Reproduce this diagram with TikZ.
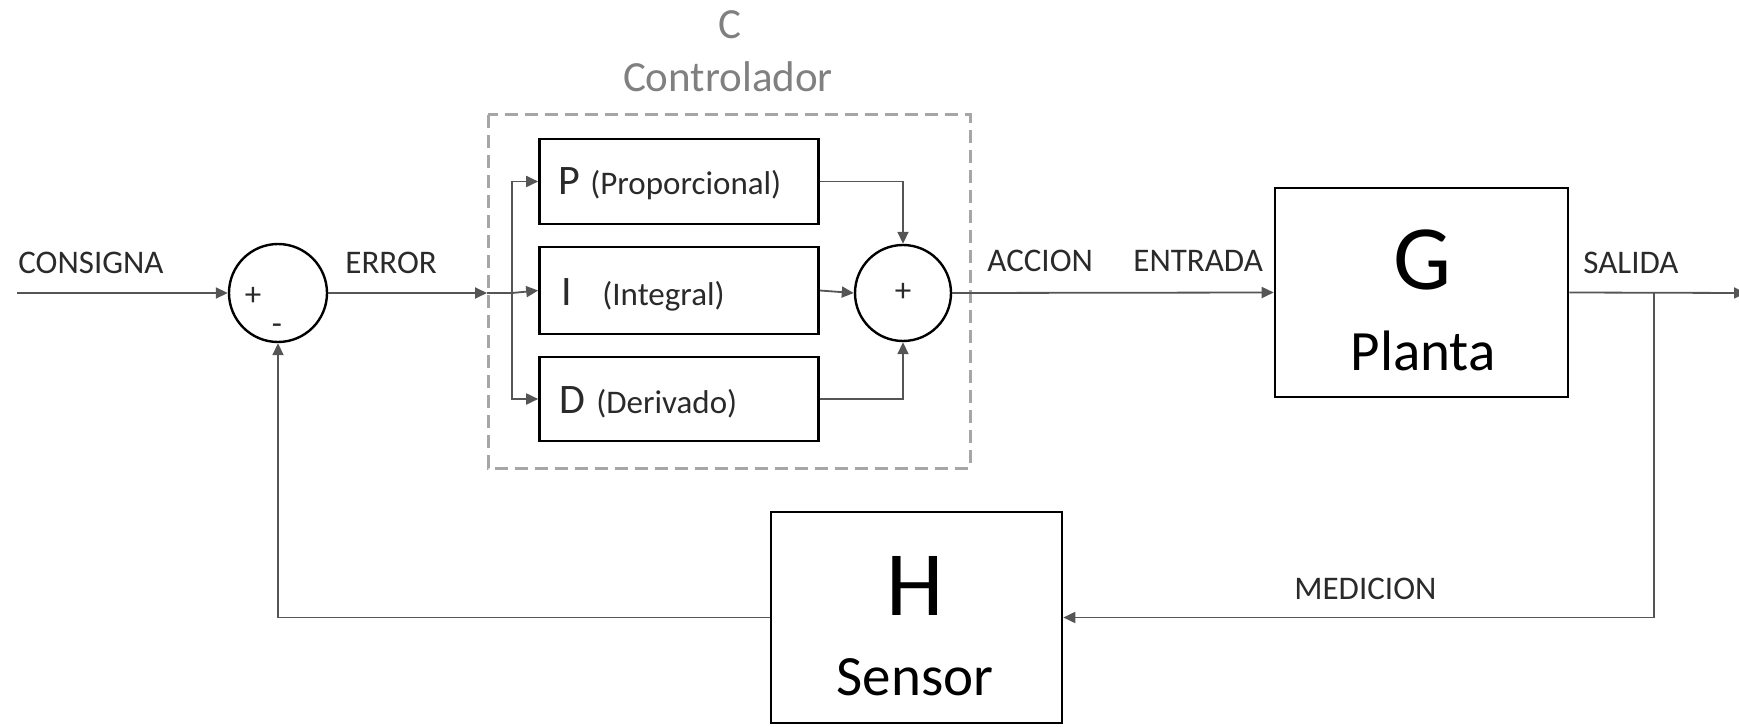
\documentclass[tikz,border=0pt]{standalone}
\usepackage{fontspec}
\setmainfont{Carlito}
\usetikzlibrary{arrows.meta}
\definecolor{txt}{HTML}{2A2A2A}
\definecolor{wire}{HTML}{555555}
\definecolor{framegray}{HTML}{A6A6A6}
\tikzset{
  block/.style={draw=black, line width=1.3pt, fill=white, inner sep=0pt},
  sumnode/.style={draw=black, circle, line width=1.2pt, fill=white, inner sep=0pt, minimum size=49pt},
  wireline/.style={draw=wire, line width=0.9pt},
  sig/.style={wireline, -{Triangle[length=6pt,width=5.5pt]}},
  lbl/.style={text=txt, inner sep=0pt, font=\fontsize{16.5}{20}\selectfont},
  gain/.style={text=txt, inner sep=0pt, font=\fontsize{21}{25}\selectfont},
  bigletter/.style={text=black, inner sep=0pt, font=\fontsize{46}{50}\selectfont},
  blocktitle/.style={text=black, inner sep=0pt, font=\fontsize{28.5}{32}\selectfont},
  ctitle/.style={text=black!50, inner sep=0pt, font=\fontsize{21.5}{25}\selectfont},
  ctlframe/.style={draw=framegray, line width=1.5pt, dash pattern=on 6.5pt off 3.5pt},
}
\begin{document}
\begin{tikzpicture}[x=0.5pt, y=-0.5pt]
\useasboundingbox (0,0) rectangle (1739,727);

% controller frame
\draw[ctlframe] (488,115) rectangle (970,468);
\node[ctitle, anchor=base] (ctl) at (730,39) {C};
\node[ctitle, anchor=base] (ctlname) at (728,92) {Controlador};

% blocks
\node[sumnode] (s1) at (278,293) {};
\node[lbl, anchor=center] (s1p) at (253,296) {+};
\node[lbl, anchor=base] (s1m) at (277,334) {-};

\node[block, minimum width=139.5pt, minimum height=42.5pt] (P) at (679,181.5) {};
\node[block, minimum width=139.5pt, minimum height=43.5pt] (I) at (679,290.5) {};
\node[block, minimum width=139.5pt, minimum height=42pt] (D) at (679,399) {};
\node[gain, anchor=base west] (Pl) at (558,195) {P};
\node[lbl, anchor=base west] (Pt) at (590,195) {(Proporcional)};
\node[gain, anchor=base west] (Il) at (561,306) {I};
\node[lbl, anchor=base west] (It) at (602,306) {(Integral)};
\node[gain, anchor=base west] (Dl) at (559,413) {D};
\node[lbl, anchor=base west] (Dt) at (596,413) {(Derivado)};

\node[sumnode, minimum size=48pt] (s2) at (903,293) {};
\node[lbl, anchor=center] (s2p) at (903,292) {+};

\node[block, minimum width=146.5pt, minimum height=104.5pt] (G) at (1421.5,292.5) {};
\node[bigletter, anchor=base] (Gl) at (1422,290) {G};
\node[blocktitle, anchor=base] (Gt) at (1423,370) {Planta};

\node[block, minimum width=145.5pt, minimum height=105.5pt] (H) at (916.5,617.5) {};
\node[bigletter, anchor=base] (Hl) at (915,615) {H};
\node[blocktitle, anchor=base] (Ht) at (915,695) {Sensor};

% signal labels
\node[lbl, anchor=base west] (consigna) at (18,273) {CONSIGNA};
\node[lbl, anchor=base west] (error) at (345,273) {ERROR};
\node[lbl, anchor=base west] (accion) at (987,271) {ACCION};
\node[lbl, anchor=base west] (entrada) at (1133,271) {ENTRADA};
\node[lbl, anchor=base west] (salida) at (1583,273) {SALIDA};
\node[lbl, anchor=base west] (medicion) at (1294,599) {MEDICION};

% junction points
\coordinate (in) at (17,293);
\coordinate (ein) at (487,293);
\coordinate (br) at (512,293);
\coordinate (tap) at (1654,293);
\coordinate (out) at (1746,293);

% connectors
\draw[sig] (in) -- (s1.west);
\draw[sig] (s1.east) -- (ein);
\draw[wireline] (ein) -- (br);
\draw[sig] (br) -- (I.west);
\draw[sig] (br) |- (P.west);
\draw[sig] (br) |- (D.west);
\draw[sig] (P.east) -| (s2.north);
\draw[sig] (I.east) -- (s2.west);
\draw[sig] (D.east) -| (s2.south);
\draw[sig] (s2.east) -- (G.west);
\draw[sig] (G.east) -- (out);
\draw[sig] (tap) |- (H.east);
\draw[sig] (H.west) -| (s1.south);
\end{tikzpicture}
\end{document}
